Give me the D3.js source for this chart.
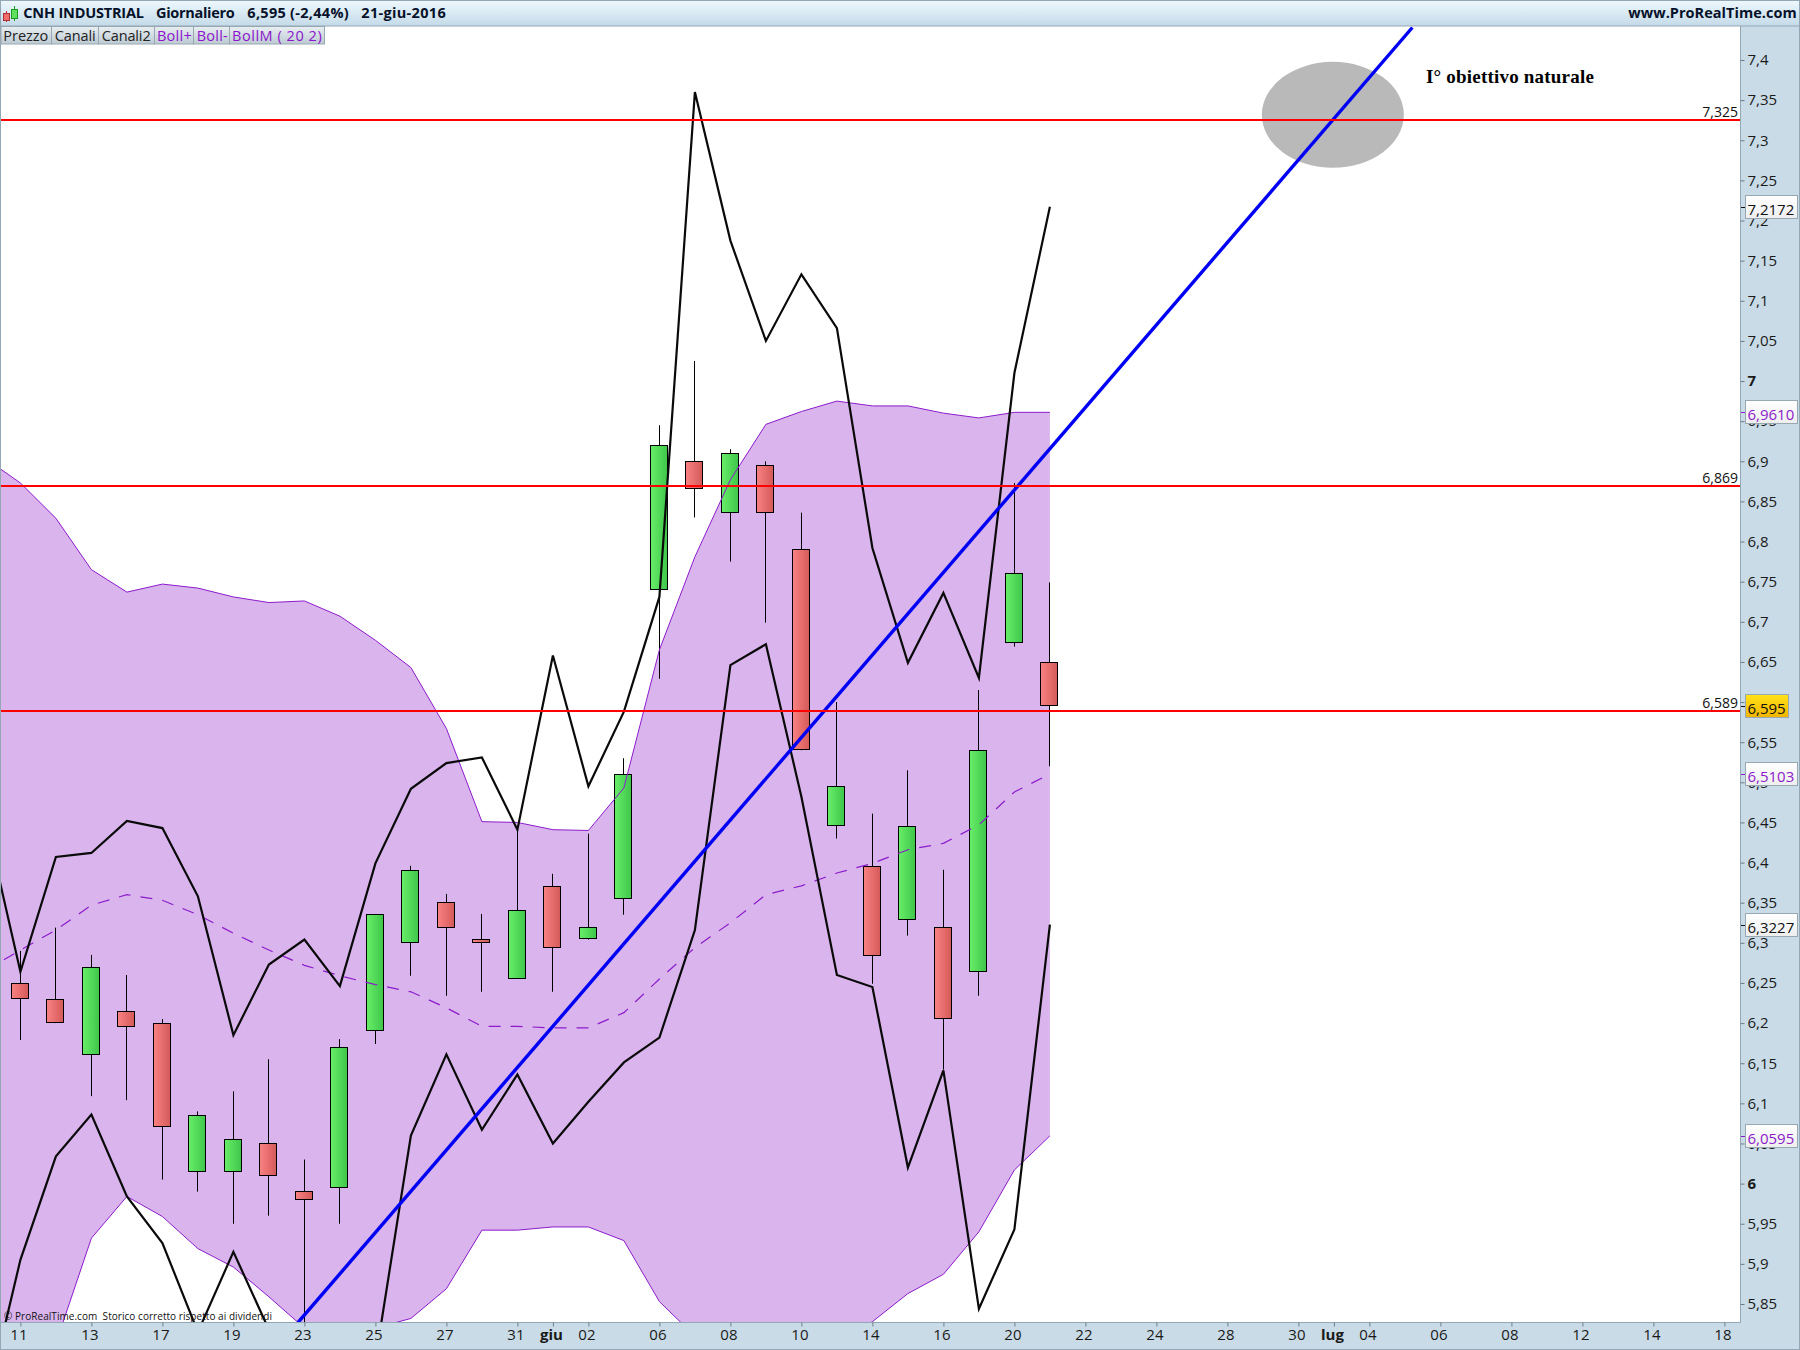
<!DOCTYPE html>
<html><head><meta charset="utf-8">
<script src="https://cdnjs.cloudflare.com/ajax/libs/d3/7.8.5/d3.min.js"></script>
<style>html,body{margin:0;padding:0;background:#fff}svg{display:block}text{font-family:"Open Sans",sans-serif;white-space:pre}</style>
</head><body><div id="c"></div>
<script>
// --- data ---
const opens  = [6.25,6.23,6.16,6.215,6.2,6.015,6.015,6.05,5.99,5.995,6.19,6.3,6.35,6.305,6.255,6.37,6.305,6.355,6.74,6.9,6.835,6.895,6.79,6.445,6.395,6.329,6.319,6.264,6.674,6.65];
const highs  = [6.29,6.319,6.285,6.26,6.205,6.09,6.115,6.155,6.03,6.18,6.336,6.396,6.361,6.336,6.441,6.386,6.436,6.53,6.945,7.025,6.915,6.9,6.836,6.6,6.461,6.515,6.391,6.615,6.873,6.749];
const lows   = [6.179,6.2,6.109,6.104,6.005,5.99,5.95,5.96,5.82,5.95,6.174,6.259,6.234,6.239,6.255,6.239,6.304,6.335,6.629,6.83,6.775,6.699,6.54,6.43,6.249,6.309,6.142,6.234,6.669,6.52];
const closes = [6.23,6.2,6.27,6.195,6.07,6.085,6.055,6.01,5.98,6.17,6.336,6.39,6.319,6.3,6.341,6.294,6.319,6.51,6.92,6.865,6.91,6.835,6.54,6.495,6.284,6.445,6.205,6.54,6.76,6.595];
// band and channel series start one session before the first candle (index -1)
const bollUpper = [6.904,6.873,6.829,6.765,6.737,6.747,6.742,6.731,6.724,6.726,6.707,6.677,6.643,6.567,6.451,6.45,6.441,6.44,6.493,6.665,6.781,6.877,6.946,6.962,6.975,6.969,6.969,6.96,6.954,6.961,6.961];
const bollLower = [5.72,5.743,5.801,5.932,5.984,5.959,5.919,5.896,5.859,5.82,5.815,5.82,5.832,5.869,5.942,5.942,5.946,5.946,5.929,5.853,5.81,5.793,5.78,5.78,5.799,5.828,5.863,5.887,5.94,6.017,6.0595];
const bollMid   = [6.265,6.291,6.316,6.347,6.36,6.353,6.335,6.312,6.291,6.272,6.259,6.248,6.239,6.219,6.196,6.196,6.194,6.194,6.213,6.255,6.294,6.325,6.36,6.371,6.387,6.399,6.416,6.424,6.447,6.488,6.5103];
const canali    = [6.458,6.264,6.407,6.412,6.452,6.443,6.358,6.185,6.273,6.304,6.246,6.399,6.492,6.524,6.531,6.441,6.658,6.495,6.588,6.731,7.36,7.175,7.05,7.133,7.066,6.792,6.649,6.736,6.63,7.01,7.2172];
const canali2   = [5.718,5.905,6.034,6.086,5.984,5.926,5.815,5.915,5.818,5.73,5.705,5.78,6.06,6.161,6.067,6.136,6.05,6.102,6.151,6.182,6.316,6.646,6.672,6.482,6.26,6.245,6.02,6.141,5.844,5.943,6.3227];
const levels = [7.325,6.869,6.589];
const levelLabels = ["7,325","6,869","6,589"];
const trendIdx = [7.82,39.21];
const trendPrice = [5.827,7.4405];
const dateTickIdx = [0,2,4,6,8,10,12,14,15,16,18,20,22,24,26,28,30,32,34,36,37,38,40,42,44,46,48];
const dateTickLabels = ["11","13","17","19","23","25","27","31","giu","02","06","08","10","14","16","20","22","24","28","30","lug","04","06","08","12","14","18"];
const priceTicks = [5.85,5.9,5.95,6,6.05,6.1,6.15,6.2,6.25,6.3,6.35,6.4,6.45,6.5,6.55,6.6,6.65,6.7,6.75,6.8,6.85,6.9,6.95,7,7.05,7.1,7.15,7.2,7.25,7.3,7.35,7.4];
const legendNames = ["Prezzo","Canali","Canali2","Boll+","Boll-","BollM ( 20 2)"];
const badgeValues = [7.2172,6.961,6.595,6.5103,6.3227,6.0595];
const badgeLabels = ["7,2172","6,9610","6,595","6,5103","6,3227","6,0595"];
const badgeKinds  = ["black","purple","gold","purple","black","purple"];
const targetEllipse = {i:36.97, p:7.3317, di:2.0, dp:0.066};

// --- layout ---
const W=1800,H=1350,plotL=1,plotR=1740,plotT=26,plotB=1322;
const x=d3.scaleLinear().domain([0,29]).range([20.4,1049.9]);
const y=d3.scaleLinear().domain([5.85,7.4]).range([1304,60]);
const PURPLE="#8c1ccb",FILL="#d9b4ed",BORDER="#94a7b4",PANEL="#c9dbe6";

const svg=d3.select("#c").append("svg").attr("width",W).attr("height",H);
const defs=svg.append("defs");
function grad(id,x2,y2,stops){const g=defs.append("linearGradient").attr("id",id).attr("x1",0).attr("y1",0).attr("x2",x2).attr("y2",y2);
  stops.forEach((c,k)=>g.append("stop").attr("offset",k/(stops.length-1)).attr("stop-color",c));}
grad("gGreen",1,0,["#68ee68","#3fc64b"]);
grad("gRed",1,0,["#fb8282","#d45a5a"]);
grad("gHead",0,1,["#eef8fd","#c4dae8"]);
grad("gTab",0,1,["#e8eff2","#bdcad2"]);
grad("gBadge",0,1,["#ffffff","#eeeeee"]);
grad("gGold",0,1,["#ffe31a","#f2b400"]);
defs.append("clipPath").attr("id","plot").append("rect").attr("x",plotL).attr("y",plotT).attr("width",plotR-plotL).attr("height",plotB-plotT);

svg.append("rect").attr("width",W).attr("height",H).attr("fill","#fff");
const plot=svg.append("g").attr("clip-path","url(#plot)");

// target ellipse
plot.append("ellipse").attr("cx",x(targetEllipse.i)).attr("cy",y(targetEllipse.p))
  .attr("rx",x(targetEllipse.di)-x(0)).attr("ry",y(targetEllipse.p-targetEllipse.dp)-y(targetEllipse.p)).attr("fill","#b9b9b9");

// Bollinger band fill
const bandIdx=d3.range(-1,30);
plot.append("path").datum(bandIdx).attr("fill",FILL)
  .attr("d",d3.area().x(i=>x(i)).y0(i=>y(bollLower[i+1])).y1(i=>y(bollUpper[i+1])));

// candles
const idx=d3.range(0,30);
const candles=plot.append("g");
idx.forEach(i=>{
  const cx=Math.floor(x(i)),up=closes[i]>=opens[i];
  const top=Math.max(opens[i],closes[i]),bot=Math.min(opens[i],closes[i]);
  const yTop=Math.round(y(top)-.3)+.5,yBot=Math.round(y(bot))-.5;
  candles.append("line").attr("x1",cx+.5).attr("x2",cx+.5).attr("y1",y(highs[i])).attr("y2",y(lows[i])).attr("stroke","#000").attr("stroke-width",1);
  candles.append("rect").attr("x",cx-8.5).attr("width",17).attr("y",yTop).attr("height",Math.max(3,yBot-yTop))
    .attr("fill",up?"url(#gGreen)":"url(#gRed)").attr("stroke","#000").attr("stroke-width",1);
});

// band outlines and mid line
const ln=arr=>d3.line().x(i=>x(i)).y(i=>y(arr[i+1]));
[bollUpper,bollLower].forEach(a=>plot.append("path").datum(bandIdx).attr("fill","none").attr("stroke",PURPLE).attr("stroke-width",1).attr("d",ln(a)));
plot.append("path").datum(bandIdx).attr("fill","none").attr("stroke",PURPLE).attr("stroke-width",1.2).attr("stroke-dasharray","12,10").attr("d",ln(bollMid));

// channels
[canali,canali2].forEach(a=>plot.append("path").datum(bandIdx).attr("fill","none").attr("stroke","#0a0a0a").attr("stroke-width",2.2).attr("stroke-linejoin","miter").attr("d",ln(a)));

// trendline
plot.append("line").attr("x1",x(trendIdx[0])).attr("y1",y(trendPrice[0])).attr("x2",x(trendIdx[1])).attr("y2",y(trendPrice[1]))
  .attr("stroke","#0000f5").attr("stroke-width",3.4);

// levels
levels.forEach((v,k)=>{
  const yy=Math.round(y(v));
  plot.append("line").attr("x1",plotL).attr("x2",plotR).attr("y1",yy).attr("y2",yy).attr("stroke","#f00").attr("stroke-width",2);
  svg.append("text").attr("x",plotR-2).attr("y",yy-3).attr("text-anchor","end").attr("font-size",14).attr("fill","#111").text(levelLabels[k]);
});

// annotation
svg.append("text").attr("x",1426).attr("y",83).attr("font-size",19).attr("font-weight","bold").attr("letter-spacing",.2).style("font-family","'Liberation Serif',serif").attr("fill","#000").text("I° obiettivo naturale");

// copyright
svg.append("text").attr("x",4).attr("y",1320).attr("font-size",10).attr("textLength",268).attr("lengthAdjust","spacing").attr("fill","#111").text("© ProRealTime.com  Storico corretto rispetto ai dividendi");

// panels
svg.append("rect").attr("x",plotR).attr("y",plotT).attr("width",W-plotR).attr("height",H-plotT).attr("fill",PANEL);
svg.append("rect").attr("x",0).attr("y",plotB).attr("width",W).attr("height",H-plotB).attr("fill",PANEL);
svg.append("line").attr("x1",.5).attr("x2",.5).attr("y1",plotT).attr("y2",plotB).attr("stroke",BORDER);
svg.append("line").attr("x1",plotR+.5).attr("x2",plotR+.5).attr("y1",plotT).attr("y2",plotB+1).attr("stroke",BORDER);
svg.append("line").attr("x1",0).attr("x2",plotR).attr("y1",plotB+.5).attr("y2",plotB+.5).attr("stroke",BORDER);
svg.append("rect").attr("x",.5).attr("y",.5).attr("width",W-1).attr("height",H-1).attr("fill","none").attr("stroke",BORDER);

// price axis
const fmt=v=>String(+v.toFixed(4)).replace(".",",");
const yAxis=svg.append("g").attr("transform",`translate(${plotR+.5},0)`)
  .call(d3.axisRight(y).tickValues(priceTicks).tickFormat(fmt).tickSize(4).tickPadding(3));
yAxis.select(".domain").remove();
yAxis.selectAll("line").attr("stroke","#6d7d88");
yAxis.selectAll("text").attr("font-size",15).attr("fill","#1a1a1a").attr("font-weight",d=>Number.isInteger(d)?"bold":"normal");

// date axis
const xAxis=svg.append("g").attr("transform",`translate(0,${plotB+.5})`)
  .call(d3.axisBottom(x).tickValues(dateTickIdx).tickFormat((d,k)=>dateTickLabels[k]).tickSize(4).tickPadding(3));
xAxis.select(".domain").remove();
xAxis.selectAll("line").attr("stroke","#6d7d88");
xAxis.selectAll("text").attr("font-size",15).attr("dx",-2).attr("fill","#1a1a1a").attr("font-weight",(d,k)=>/[a-z]/.test(dateTickLabels[k])?"bold":"normal");

// value badges
badgeValues.forEach((v,k)=>{
  const yy=Math.round(y(v)),kind=badgeKinds[k],gold=kind==="gold";
  const col=kind==="purple"?PURPLE:"#111";
  svg.append("line").attr("x1",plotR+1).attr("x2",plotR+5).attr("y1",yy+.5).attr("y2",yy+.5).attr("stroke",col);
  svg.append("rect").attr("x",1745.5).attr("y",yy-11.5).attr("width",gold?43:52).attr("height",23)
    .attr("fill",gold?"url(#gGold)":"url(#gBadge)").attr("stroke","#98a8b2");
  svg.append("text").attr("x",1747.5).attr("y",yy+8).attr("font-size",15).attr("fill",col).text(badgeLabels[k]);
});

// header
svg.append("rect").attr("x",.5).attr("y",.5).attr("width",W-1).attr("height",25.5).attr("fill","url(#gHead)").attr("stroke",BORDER);
const icon=svg.append("g");
icon.append("line").attr("x1",6.5).attr("x2",6.5).attr("y1",11).attr("y2",22).attr("stroke","#c33");
icon.append("rect").attr("x",3.5).attr("y",13.5).attr("width",6).attr("height",7).attr("fill","#f26c6c").attr("stroke","#a33");
icon.append("line").attr("x1",14.5).attr("x2",14.5).attr("y1",6).attr("y2",21).attr("stroke","#1a9a1a");
icon.append("rect").attr("x",11.5).attr("y",9.5).attr("width",6).attr("height",9).attr("fill","#5fe05f").attr("stroke","#1a9a1a");
const head=(t,xx,len)=>svg.append("text").attr("x",xx).attr("y",18).attr("font-size",14.5).attr("font-weight","bold").attr("fill","#07122a").attr("textLength",len).attr("lengthAdjust","spacing").text(t);
head("CNH INDUSTRIAL",23.3,120.7);head("Giornaliero",156,78.7);head("6,595 (-2,44%)",247.3,101.4);head("21-giu-2016",361.3,84.4);
head("www.ProRealTime.com",1628.3,168.4);

// legend tabs
const tabEdges=[1,51.5,98.5,154.5,193.5,229.5,324.5];
const tabTextX=[3.3,54.7,101.7,157,196.7,232];
const tabTextLen=[45,41,49,34.7,31,89.7];
legendNames.forEach((n,k)=>{
  svg.append("rect").attr("x",tabEdges[k]).attr("y",26.5).attr("width",tabEdges[k+1]-tabEdges[k]).attr("height",17.5).attr("fill","url(#gTab)").attr("stroke","#98a8b2");
  svg.append("text").attr("x",tabTextX[k]).attr("y",40.7).attr("font-size",14.5).attr("textLength",tabTextLen[k]).attr("lengthAdjust","spacing").attr("fill",k<3?"#222":"#8c14cc").text(n);
});
</script></body></html>
